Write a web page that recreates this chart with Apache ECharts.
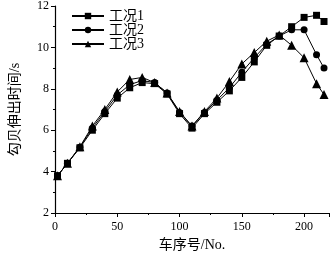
<!DOCTYPE html>
<html>
<head>
<meta charset="utf-8">
<script src="https://cdn.jsdelivr.net/npm/echarts@6/dist/echarts.min.js"></script>
<style>
html, body { margin: 0; padding: 0; background: #fff; }
#chart { width: 330px; height: 257px; }
</style>
</head>
<body>
<div id="chart"></div>
<script>
var carNo = [2, 10, 20, 30, 40, 50, 60, 70, 80, 90, 100, 110, 120, 130, 140, 150, 160, 170, 180, 190, 200, 210, 216];
var case1 = [3.8, 4.4, 5.15, 6.0, 6.8, 7.55, 8.05, 8.3, 8.25, 7.75, 6.8, 6.1, 6.8, 7.35, 7.9, 8.55, 9.3, 10.1, 10.55, 11.0, 11.45, 11.55, 11.25];
var case2 = [3.8, 4.4, 5.18, 6.1, 6.9, 7.7, 8.2, 8.4, 8.3, 7.8, 6.85, 6.2, 6.85, 7.45, 8.05, 8.8, 9.5, 10.15, 10.55, 10.85, 10.85, 9.65, 9.0];
var case3 = [3.8, 4.4, 5.2, 6.2, 7.0, 7.85, 8.45, 8.55, 8.3, 7.8, 6.9, 6.2, 6.9, 7.55, 8.35, 9.2, 9.75, 10.3, 10.6, 10.1, 9.5, 8.25, 7.72];
var seriesNames = ["工况1", "工况2", "工况3"];
var symbols = ["rect", "circle", "triangle"];

var fontFam = "'Liberation Serif', 'Noto Sans CJK SC', serif";

function pairs(xs, ys) {
    var out = [];
    for (var i = 0; i < xs.length; ++i) {
        out.push([xs[i], ys[i]]);
    }
    return out;
}

var chart = echarts.init(document.getElementById("chart"));
var allData = [case1, case2, case3];
var series = [];
for (var i = 0; i < allData.length; ++i) {
    series.push({
        name: seriesNames[i],
        type: "line",
        data: pairs(carNo, allData[i]),
        symbol: symbols[i],
        symbolSize: i == 2 ? 9 : 7,
        lineStyle: { color: "#000", width: 1 },
        itemStyle: { color: "#000" },
        animation: false
    });
}
var axisCommon = {
    axisLine: { show: true, lineStyle: { color: "#000", width: 1.2 } },
    axisTick: { show: true, inside: false, length: 4, lineStyle: { color: "#000" } },
    minorTick: { show: true, splitNumber: 2, length: 2, lineStyle: { color: "#000" } },
    splitLine: { show: false },
    axisLabel: { color: "#000", fontFamily: fontFam, fontSize: 12 },
    nameTextStyle: { color: "#000", fontFamily: fontFam, fontSize: 14 }
};
var option = {
    animation: false,
    grid: { left: 53, right: 1, top: 6, bottom: 43, containLabel: false },
    legend: {
        orient: "vertical",
        left: 66,
        top: 4,
        itemWidth: 32,
        itemHeight: 8,
        itemGap: 0,
        textStyle: { color: "#000", fontFamily: fontFam, fontSize: 14, lineHeight: 14 },
        data: seriesNames
    },
    xAxis: Object.assign({}, axisCommon, {
        type: "value",
        min: 0,
        max: 220,
        interval: 50,
        name: "车序号/No.",
        nameLocation: "middle",
        nameGap: 25,
        axisLabel: Object.assign({}, axisCommon.axisLabel, {
            showMaxLabel: false,
            margin: 8
        })
    }),
    yAxis: Object.assign({}, axisCommon, {
        type: "value",
        min: 2,
        max: 12,
        interval: 2,
        name: "勾贝伸出时间/s",
        nameLocation: "middle",
        nameGap: 33,
        axisLabel: Object.assign({}, axisCommon.axisLabel, { margin: 6 })
    }),
    series: series
};
chart.setOption(option);
</script>
</body>
</html>
